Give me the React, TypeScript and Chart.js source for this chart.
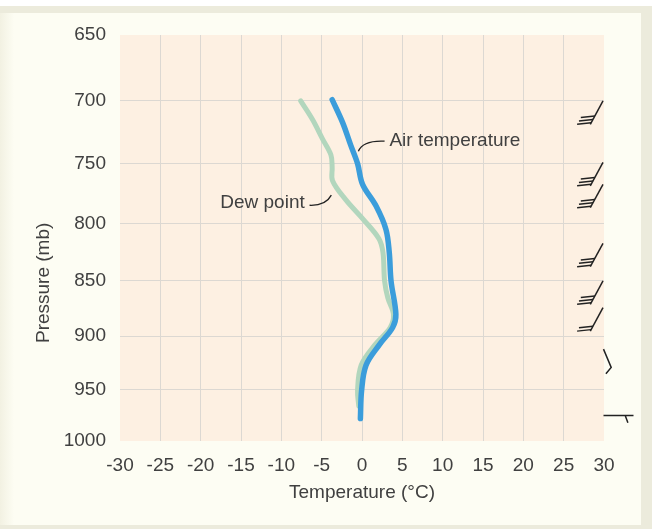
import React, { useEffect, useRef } from "react";
import { Chart, registerables, LinearScale } from "chart.js";

// Axis ticks
const xTicks = [-30, -25, -20, -15, -10, -5, 0, 5, 10, 15, 20, 25, 30];
const yTicks = [650, 700, 750, 800, 850, 900, 950, 1000];

// Air temperature profile (°C vs mb)
const airTempC = [-3.7, -2.4, -1.4, -0.55, 0.07, 1.73, 2.97, 3.38, 3.6, 4.2, 3.8, 2.14, 0.5, -0.05, -0.2];
const airTempMb = [699, 717, 735, 750, 767, 785, 805, 825, 850, 880, 892, 908, 927, 951, 978];

// Dew point profile (°C vs mb)
const dewPointC = [-7.6, -6.1, -4.9, -3.85, -3.7, -3.65, -2.0, 0.1, 2.1, 2.6, 2.8, 3.2, 3.9, 3.5, 1.6, -0.1, -0.55, -0.4];
const dewPointMb = [700, 715, 730, 743, 753, 764, 780, 796, 813, 825, 850, 865, 880, 892, 908, 927, 951, 966];

// Wind barbs (pressure level, number of feathers)
const barbMb = [700, 749, 767, 817, 850, 874];
const barbFeathers = [3, 3, 3, 3, 3, 2];
const lightBarbMb = [912, 975];

// Pressure axis: part logarithmic, part linear (as drawn in the figure)
const LOG_SHARE = 0.67;
class PressureScale extends (LinearScale as any) {
  static id = "pressure";
  static defaults = (LinearScale as any).defaults;
  frac(v: number) {
    const a = this.min, b = this.max;
    const lg = Math.log(v / a) / Math.log(b / a);
    const ln = (v - a) / (b - a);
    return LOG_SHARE * lg + (1 - LOG_SHARE) * ln;
  }
  getPixelForValue(v: number) {
    return this.getPixelForDecimal(this.frac(v));
  }
  getValueForPixel(px: number) {
    const d = this.getDecimalForPixel(px);
    let lo = this.min, hi = this.max;
    for (let i = 0; i < 40; i++) {
      const m = (lo + hi) / 2;
      if (this.frac(m) < d) lo = m; else hi = m;
    }
    return (lo + hi) / 2;
  }
}

Chart.register(...registerables, PressureScale as any);

const TEXT = "#404040";
const FONT = { family: "'Liberation Sans', Arial, sans-serif", size: 19 };

const plotBg = {
  id: "plotBg",
  beforeDraw(chart: any) {
    const { ctx, chartArea } = chart;
    ctx.save();
    ctx.fillStyle = "#fdf0e2";
    ctx.fillRect(chartArea.left, chartArea.top, chartArea.right - chartArea.left, chartArea.bottom - chartArea.top);
    ctx.restore();
  },
};

const extras = {
  id: "extras",
  afterDatasetsDraw(chart: any) {
    const { ctx, chartArea } = chart;
    const xs = chart.scales.x;
    const ys = chart.scales.y;
    const px = (t: number) => xs.getPixelForValue(t);
    const py = (p: number) => ys.getPixelForValue(p);
    ctx.save();
    ctx.font = `${FONT.size}px ${FONT.family}`;
    ctx.fillStyle = TEXT;
    ctx.textBaseline = "middle";

    // Y axis title, centred on the 850 mb level as in the figure
    ctx.save();
    ctx.translate(44, (py(800) + py(900)) / 2 + 3);
    ctx.rotate(-Math.PI / 2);
    ctx.textAlign = "center";
    ctx.fillText("Pressure (mb)", 0, 0);
    ctx.restore();

    // Annotations
    ctx.textAlign = "left";
    ctx.fillText("Air temperature", px(3.4), py(731.8));
    ctx.textAlign = "right";
    ctx.fillText("Dew point", px(-7.1), py(782.5));

    ctx.strokeStyle = "#222";
    ctx.lineWidth = 1.3;
    // Air temperature leader
    ctx.beginPath();
    ctx.moveTo(px(-0.45), py(740));
    ctx.quadraticCurveTo(px(0.1), py(731), px(2.8), py(731.8));
    ctx.stroke();
    // Dew point leader
    ctx.beginPath();
    ctx.moveTo(px(-6.5), py(784.5));
    ctx.quadraticCurveTo(px(-4.5), py(785), px(-3.8), py(776));
    ctx.stroke();

    // Wind barbs
    const right = chartArea.right;
    ctx.lineWidth = 1.5;
    ctx.lineCap = "butt";
    barbMb.forEach((p, i) => {
      const y0 = py(p);
      const x0 = right - 1;
      const dx = -12.7, dy = 23.4;
      ctx.beginPath();
      ctx.moveTo(x0, y0);
      ctx.lineTo(x0 + dx, y0 + dy);
      ctx.stroke();
      const n = barbFeathers[i];
      for (let k = 0; k < n; k++) {
        const f = 1 - (k * 3.4 + 1.5) / dy;
        const ax = x0 + dx * f;
        const ay = y0 + dy * f;
        ctx.beginPath();
        ctx.moveTo(ax, ay);
        ctx.lineTo(ax - 14, ay + 1.5);
        ctx.stroke();
      }
    });
    // Light winds outside the plot
    {
      const y0 = py(lightBarbMb[0]);
      const x0 = right - 0.5;
      ctx.beginPath();
      ctx.moveTo(x0, y0);
      ctx.lineTo(x0 + 7.7, y0 + 18.3);
      ctx.lineTo(x0 + 2.4, y0 + 24.7);
      ctx.stroke();
    }
    {
      const y0 = py(lightBarbMb[1]);
      const x0 = right - 0.5;
      ctx.beginPath();
      ctx.moveTo(x0, y0);
      ctx.lineTo(x0 + 30, y0);
      ctx.moveTo(x0 + 21.7, y0);
      ctx.lineTo(x0 + 24.4, y0 + 7.3);
      ctx.stroke();
    }
    ctx.restore();
  },
};

export default function App() {
  const ref = useRef<HTMLCanvasElement | null>(null);
  useEffect(() => {
    if (!ref.current) return;
    const edgeX = (c: any) => (c.index === 0 || c.index === xTicks.length - 1 ? "rgba(0,0,0,0)" : "#dcd8d2");
    const edgeY = (c: any) => (c.index === 0 || c.index === yTicks.length - 1 ? "rgba(0,0,0,0)" : "#dcd8d2");
    const chart = new Chart(ref.current, {
      type: "scatter",
      data: {
        datasets: [
          {
            label: "Air temperature",
            data: airTempC.map((t, i) => ({ x: t, y: airTempMb[i] })),
            showLine: true,
            borderColor: "#3b9ddb",
            borderWidth: 5.5,
            pointRadius: 0,
            tension: 0.35,
            borderCapStyle: "round",
            borderJoinStyle: "round",
          },
          {
            label: "Dew point",
            data: dewPointC.map((t, i) => ({ x: t, y: dewPointMb[i] })),
            showLine: true,
            borderColor: "#b2d6bd",
            borderWidth: 5,
            pointRadius: 0,
            tension: 0.35,
            borderCapStyle: "round",
            borderJoinStyle: "round",
          },
        ],
      },
      options: {
        animation: false,
        responsive: false,
        maintainAspectRatio: false,
        layout: { padding: { top: 35, right: 51, left: 0, bottom: 0 } },
        plugins: { legend: { display: false }, tooltip: { enabled: false } },
        scales: {
          x: {
            type: "linear",
            min: -30,
            max: 30,
            afterBuildTicks: (s: any) => {
              s.ticks = xTicks.map((v) => ({ value: v }));
            },
            afterFit: (s: any) => {
              s.height = 88;
            },
            grid: { color: edgeX, lineWidth: 1, drawTicks: false },
            border: { display: false },
            ticks: { padding: 13, color: TEXT, font: FONT, maxRotation: 0, autoSkip: false, callback: (v: any) => String(v) },
            title: { display: true, text: "Temperature (°C)", color: TEXT, font: FONT, padding: { top: 0, bottom: 25 } },
          },
          y: {
            type: "pressure",
            reverse: true,
            min: 650,
            max: 1000,
            afterBuildTicks: (s: any) => {
              s.ticks = yTicks.map((v) => ({ value: v }));
            },
            afterFit: (s: any) => {
              s.width = 120;
            },
            grid: { color: edgeY, lineWidth: 1, drawTicks: false },
            border: { display: false },
            ticks: { padding: 14, color: TEXT, font: FONT, autoSkip: false, callback: (v: any) => String(v) },
            title: { display: false, text: "Pressure (mb)" },
          },
        },
      },
      plugins: [plotBg, extras],
    } as any);
    return () => chart.destroy();
  }, []);

  return (
    <div style={{ position: "fixed", left: 0, top: 0, width: 655, height: 529, background: "#ffffff", overflow: "hidden" }}>
      <div style={{ position: "absolute", left: 0, top: 6, width: 652, height: 523, background: "#ecebdc" }} />
      <div
        style={{
          position: "absolute",
          left: 0,
          top: 13,
          width: 641,
          height: 512,
          background: "linear-gradient(to right, #f2f1e2 0px, #fdfdf3 14px)",
        }}
      />
      <canvas ref={ref} width={655} height={529} style={{ position: "absolute", left: 0, top: 0, width: 655, height: 529, display: "block" }} />
    </div>
  );
}
